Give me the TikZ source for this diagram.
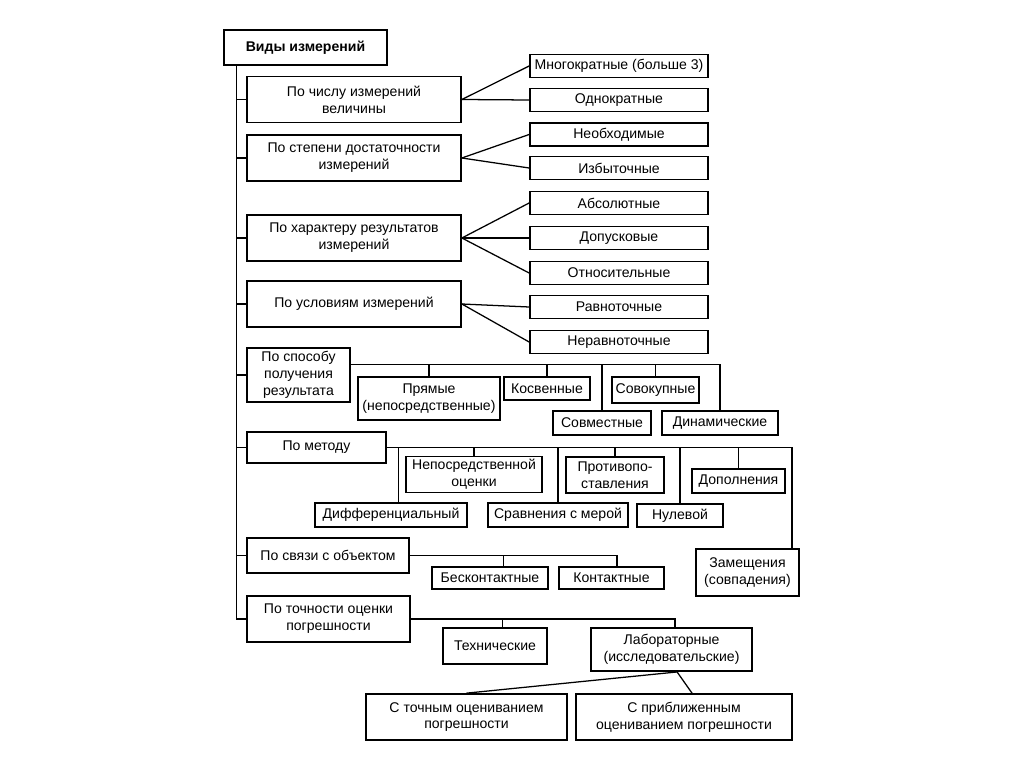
\documentclass[tikz,border=0pt]{standalone}
\usepackage{fontspec}
\setmainfont{Liberation Sans}
\usepackage{tikz}
\usetikzlibrary{calc}
\tikzset{
  box/.style={draw,line width=1.2pt,align=center,inner sep=2pt,
    font=\fontsize{10}{12}\selectfont},
  crit/.style={box,minimum width=5.35cm,minimum height=1.15cm},
  kind/.style={box,minimum width=4.45cm,minimum height=0.57cm},
  link/.style={draw,line width=0.9pt}
}
\begin{document}
\begin{tikzpicture}[x=0.025cm,y=-0.025cm]
  \path[fill=white,use as bounding box] (0,0) rectangle (1024,767);
  \node[box,font=\bfseries\fontsize{10}{12}\selectfont,minimum width=4.08cm,minimum height=0.88cm] (vid) at (305.5,47.5) {Виды измерений};
  \node[crit] (chis) at (354,99.5) {По числу измерений\\величины};
  \node[crit] (dost) at (354,158) {По степени достаточности\\измерений};
  \node[crit] (har) at (354,238) {По характеру результатов\\измерений};
  \node[crit] (usl) at (354,304) {По условиям измерений};
  \node[kind] (mnog) at (619,66) {Многократные (больше 3)};
  \node[kind] (odn) at (619,100) {Однократные};
  \node[kind] (neob) at (619,134.5) {Необходимые};
  \node[kind] (izb) at (619,168) {Избыточные};
  \node[kind] (abs) at (619,203) {Абсолютные};
  \node[kind] (dop) at (619,238) {Допусковые};
  \node[kind] (otn) at (619,273) {Относительные};
  \node[kind] (ravn) at (619,307) {Равноточные};
  \node[kind] (nerav) at (619,342) {Неравноточные};
  % способ получения
  \node[box,minimum width=2.58cm,minimum height=1.35cm] (spos) at (298.5,375) {По способу\\получения\\результата};
  \node[box,minimum width=3.55cm,minimum height=1.08cm] (pr) at (429,398.5) {Прямые\\(непосредственные)};
  \node[box,minimum width=2.15cm,minimum height=0.58cm] (kos) at (547,388.5) {Косвенные};
  \node[box,minimum width=2.18cm,minimum height=0.65cm] (sovok) at (655.5,390) {Совокупные};
  \node[box,minimum width=2.45cm,minimum height=0.6cm] (sovm) at (602,423) {Совместные};
  \node[box,minimum width=2.9cm,minimum height=0.6cm] (din) at (720,423) {Динамические};
  % метод
  \node[box,minimum width=3.48cm,minimum height=0.78cm] (met) at (316.5,447.5) {По методу};
  \node[box,minimum width=3.8cm,minimum height=0.6cm] (dif) at (391,515) {Дифференциальный};
  \node[box,minimum width=3.4cm,minimum height=0.88cm] (nep) at (474,474.5) {Непосредственной\\оценки};
  \node[box,minimum width=3.5cm,minimum height=0.6cm] (sr) at (558,515) {Сравнения с мерой};
  \node[box,minimum width=2.45cm,minimum height=0.9cm] (prot) at (615,475) {Противопо-\\ставления};
  \node[box,minimum width=2.15cm,minimum height=0.58cm] (nul) at (680,515.5) {Нулевой};
  \node[box,minimum width=2.33cm,minimum height=0.6cm] (dopl) at (738.5,481) {Дополнения};
  \node[box,minimum width=2.58cm,minimum height=1.18cm] (zam) at (747.5,572.5) {Замещения\\(совпадения)};
  % связь с объектом
  \node[box,minimum width=4.05cm,minimum height=0.88cm] (svz) at (328,555.5) {По связи с объектом};
  \node[box,minimum width=2.9cm,minimum height=0.55cm] (bes) at (490,578) {Бесконтактные};
  \node[box,minimum width=2.63cm,minimum height=0.55cm] (kon) at (611.5,578) {Контактные};
  % точность
  \node[box,minimum width=4.08cm,minimum height=1.15cm] (toch) at (328.5,619) {По точности оценки\\погрешности};
  \node[box,minimum width=2.6cm,minimum height=0.9cm] (teh) at (495,646) {Технические};
  \node[box,minimum width=4.03cm,minimum height=1.08cm] (lab) at (671.5,649.5) {Лабораторные\\(исследовательские)};
  \node[box,minimum width=5.03cm,minimum height=1.15cm] (tochn) at (466.5,717) {С точным оцениванием\\погрешности};
  \node[box,minimum width=5.4cm,minimum height=1.15cm] (pribl) at (684,717) {С приближенным\\оцениванием погрешности};

  \coordinate (tr) at ([xshift=0.33cm]vid.south west);
  \draw[link] (tr) |- (toch.west);
  \foreach \n in {chis,dost,har,usl,spos,met,svz}
    \draw[link] (\n.west) -- (\n.west -| tr);
  \foreach \n in {mnog,odn} \draw[link] (chis.east) -- (\n.west);
  \foreach \n in {neob,izb} \draw[link] (dost.east) -- (\n.west);
  \foreach \n in {abs,dop,otn} \draw[link] (har.east) -- (\n.west);
  \foreach \n in {ravn,nerav} \draw[link] (usl.east) -- (\n.west);
  \coordinate (sb) at ([yshift=-0.425cm]spos.north east);
  \foreach \n in {pr,kos,sovm,sovok,din} \draw[link] (\n.north) |- (sb);
  \draw[link] ([xshift=0.18cm]dif.north) |- (met.east);
  \foreach \n in {nep,sr,prot,nul,dopl} \draw[link] (\n.north) |- (met.east);
  \draw[link] ([xshift=-0.2cm]zam.north east) |- (met.east);
  \draw[link] ([xshift=0.33cm]bes.north) |- (svz.east);
  \draw[link] ([xshift=0.14cm]kon.north) |- (svz.east);
  \draw[link] ([xshift=0.18cm]teh.north) |- (toch.east);
  \draw[link] ([xshift=0.09cm]lab.north) |- (toch.east);
  \draw[link] ([xshift=0.14cm]lab.south) -- (tochn.north);
  \draw[link] ([xshift=0.14cm]lab.south) -- ([xshift=0.2cm]pribl.north);
\end{tikzpicture}
\end{document}
